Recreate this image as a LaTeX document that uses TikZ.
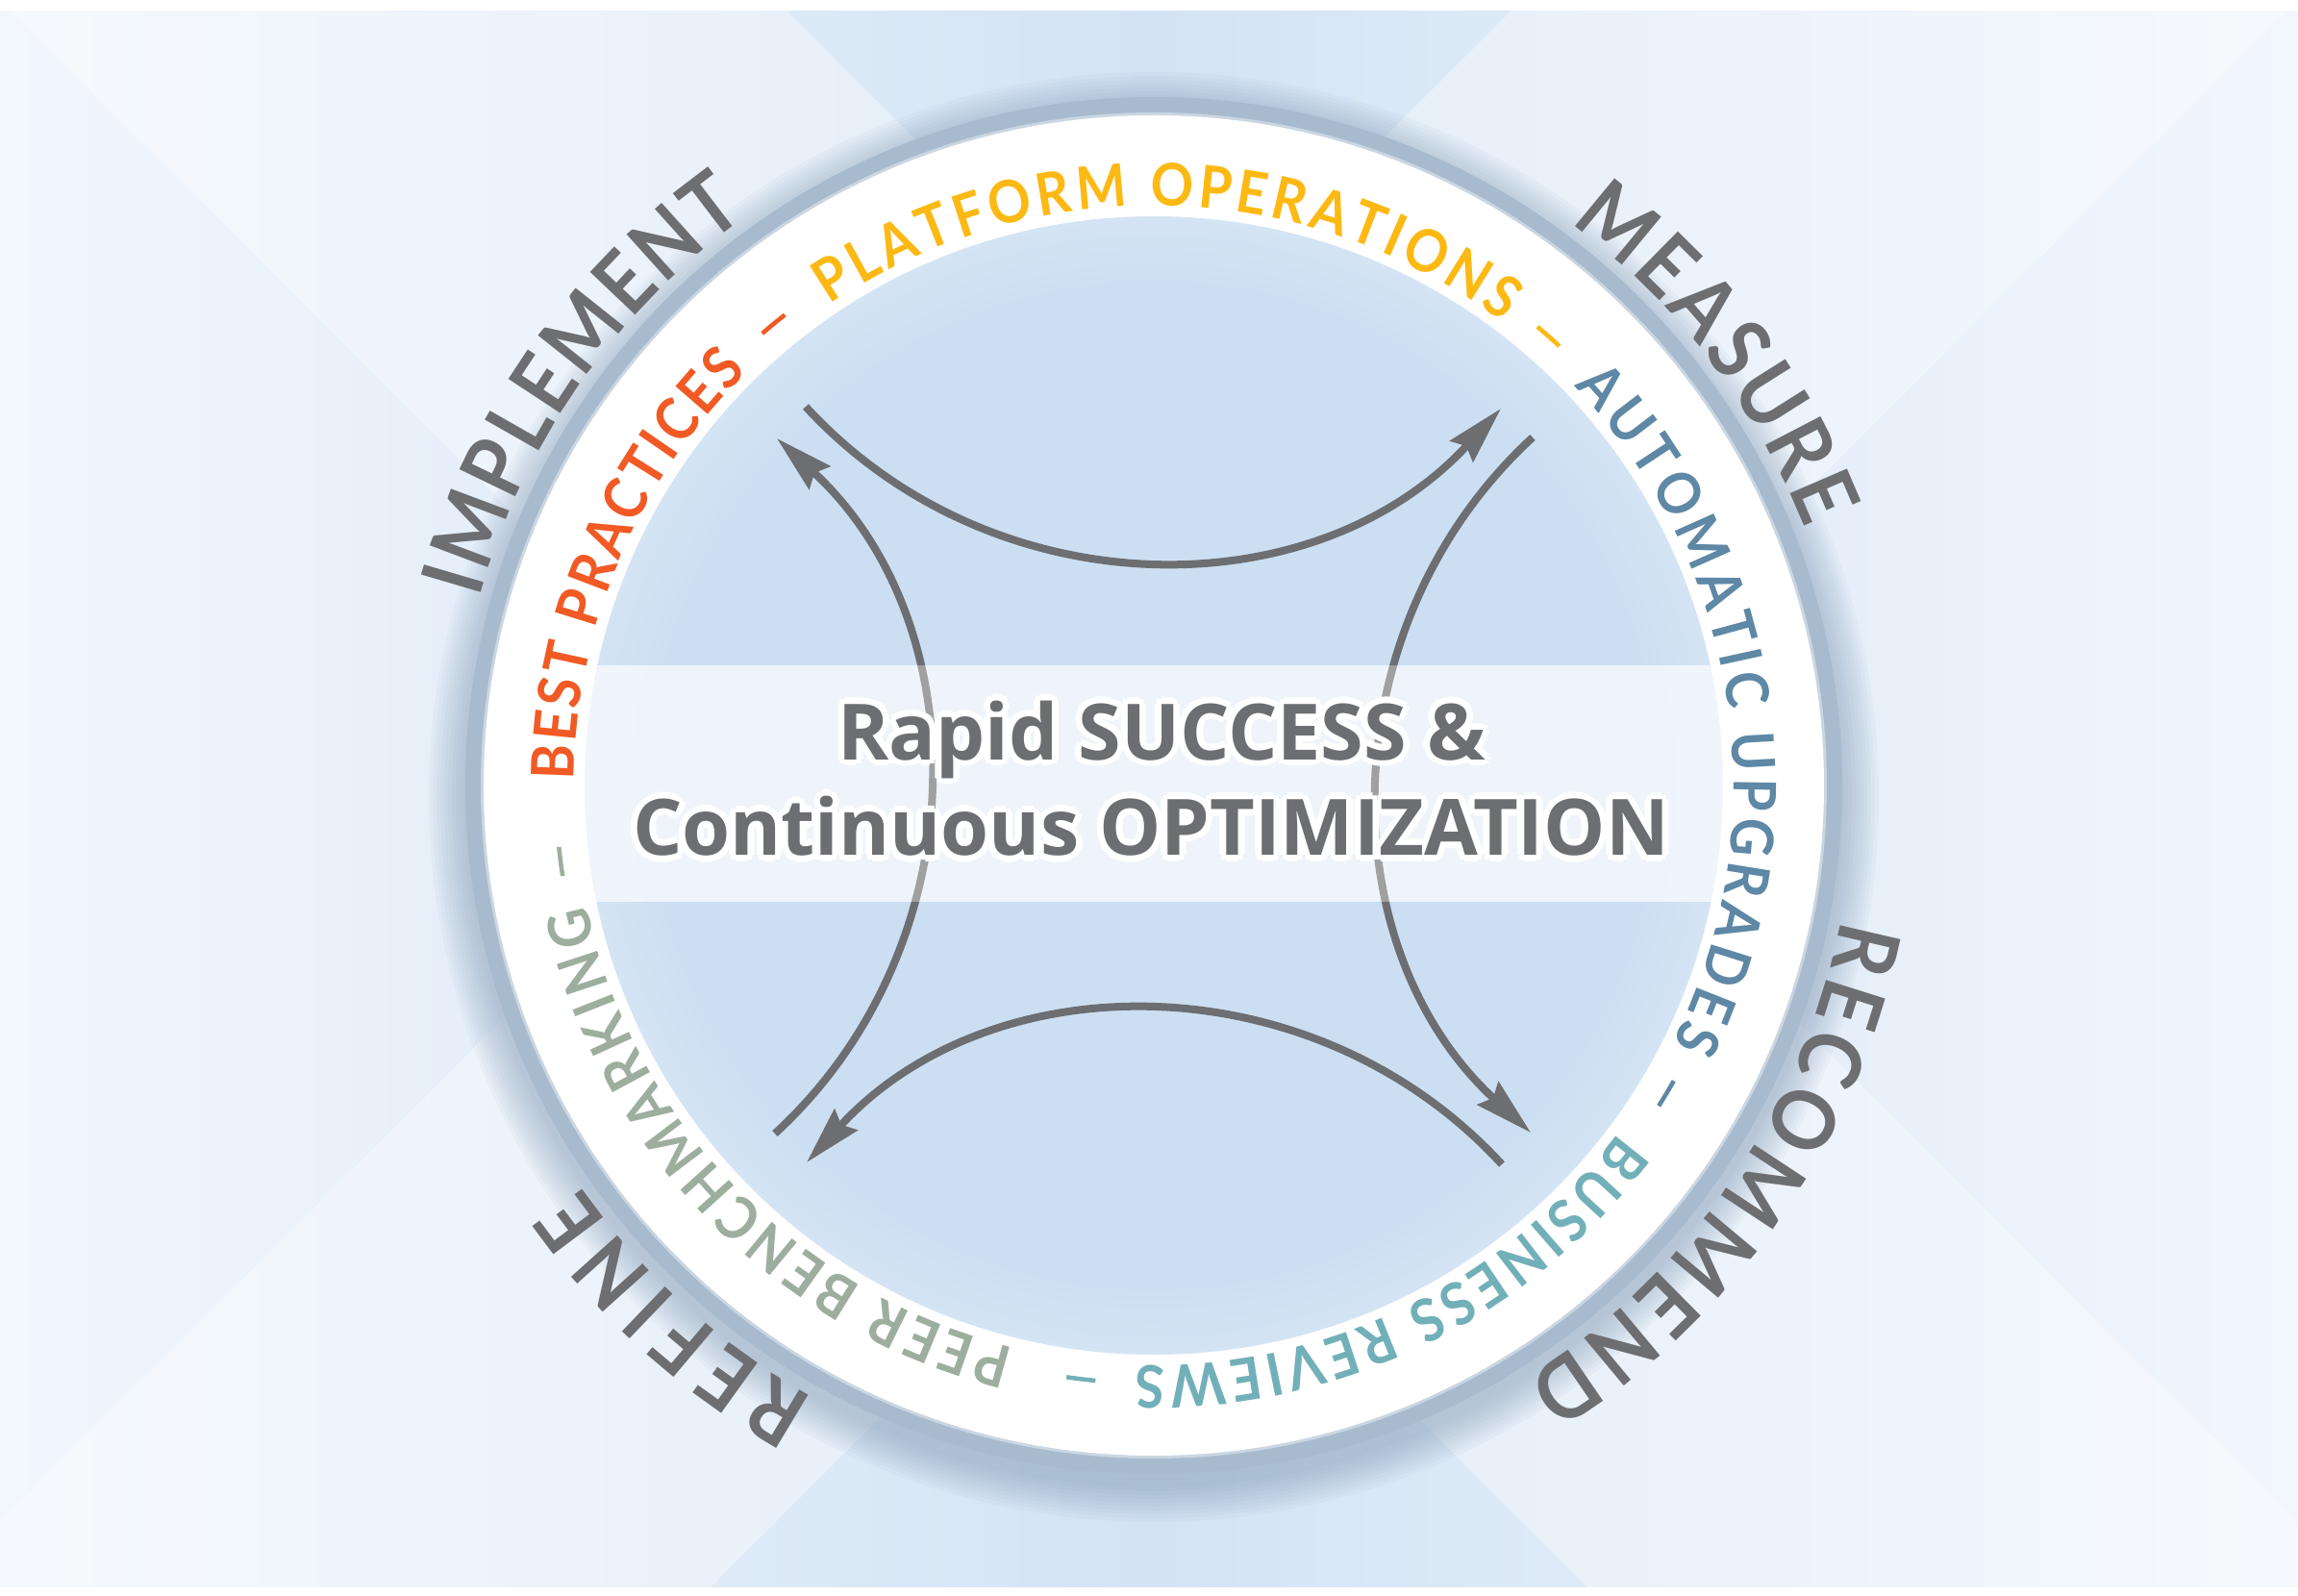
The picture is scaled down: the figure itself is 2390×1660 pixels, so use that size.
\documentclass[tikz,border=0pt]{standalone}
\usepackage{fontspec}
\usetikzlibrary{arrows.meta,decorations.text}
\newfontfamily\ringfont[FakeStretch=0.9]{Lato}
\newfontfamily\titlefont{Open Sans}
\definecolor{wordgrey}{HTML}{6D6E71}
\definecolor{bestorange}{HTML}{F15A24}
\definecolor{platyellow}{HTML}{FDB913}
\definecolor{autoblue}{HTML}{5E88A5}
\definecolor{bizteal}{HTML}{72B0B9}
\definecolor{peergreen}{HTML}{9DAE9E}
\definecolor{ringblue}{HTML}{A8BBCE}
\definecolor{ringlight}{HTML}{CAD6E2}
\definecolor{shadowblue}{HTML}{7F98B3}
\definecolor{lensblue}{HTML}{CCDFF2}
\definecolor{lensmid}{HTML}{D9E7F6}
\definecolor{lenspale}{HTML}{E9F1FA}
\definecolor{lensrim}{HTML}{F7FAFD}
\definecolor{platerim}{HTML}{E8EFF7}
\definecolor{bgmid}{HTML}{D3E3F4}
\definecolor{bgside}{HTML}{F2F7FC}
\pgfdeclareradialshading{lensshade}{\pgfpoint{0bp}{0bp}}{color(0bp)=(lensblue);color(22bp)=(lensblue);color(27bp)=(lensmid);color(31bp)=(lenspale);color(34bp)=(lensrim);color(35.4bp)=(white);color(50bp)=(white)}
\pgfdeclareradialshading{plateshade}{\pgfpoint{0bp}{0bp}}{color(0bp)=(white);color(30bp)=(white);color(35.4bp)=(platerim);color(50bp)=(platerim)}
\newcommand\innerarc[4]{\path[decorate,decoration={text along path,text align={fit to path},
  text={|\ringfont\bfseries\fontsize{17.4}{20}\selectfont\color{#1}|#4}}](#2:603)arc[start angle=#2,end angle=#3,radius=603];}
\newcommand\outerarc[3]{\path[decorate,decoration={text along path,text align={fit to path},
  text={|\ringfont\bfseries\fontsize{25.4}{28}\selectfont\color{wordgrey}|#3}}](#1:728)arc[start angle=#1,end angle=#2,radius=728];}
\newcommand\ringdash[2]{\draw[#1,line width=.45mm](#2+1.4:622)arc[start angle=#2+1.4,end angle=#2-1.4,radius=622];}
\begin{document}
\begin{tikzpicture}[x=.01cm,y=.01cm,
  arrowline/.style={draw=wordgrey,line width=.8mm,-{Stealth[length=6mm,width=3.2mm,inset=.7mm]}},
  titletext/.style={font=\titlefont\bfseries\fontsize{23}{27}\selectfont,anchor=base,inner sep=0pt}]
\useasboundingbox(-1200,-843)rectangle(1190,817);
\fill[white](-1200,-843)rectangle(1190,817);
\shade[left color=bgside,right color=bgside,middle color=bgmid](-1200,-833)rectangle(1190,805);
\begin{scope}
  \clip(-1200,-833)rectangle(1190,805);
  \fill[white,opacity=.35](-2000,1617)--(2000,-2383)--(2000,-1576)--(-2000,2424)--cycle;
  \fill[white,opacity=.35](-2000,-2373)--(2000,1627)--(2000,2434)--(-2000,-1566)--cycle;
\end{scope}
\foreach \r in {718,722,...,754}\fill[shadowblue,opacity=.06](0,-12)circle(\r);
\fill[ringblue](0,0)circle(716);
\fill[ringlight](0,0)circle(700);
\shade[shading=plateshade](0,0)circle(697);
\shade[shading=lensshade](0,0)circle(592);
\begin{scope}
  \clip(0,0)circle(595);
  \fill[white,opacity=.5](-600,-121)rectangle(600,125);
\end{scope}
\foreach \a in {0,90,180,270}
  \draw[arrowline,rotate=-\a](-362,394)..controls(-168,183)and(167,181)..(361,392);
\begin{scope}
  \clip(0,0)circle(595);
  \fill[white,opacity=.35](-600,-121)rectangle(600,125);
\end{scope}
\foreach \d in {0,45,...,315}{
  \node[titletext,text=white,shift={(\d:7)}](rapidglow\d)at(8,27){Rapid SUCCESS \&};
  \node[titletext,text=white,shift={(\d:7)}](optimglow\d)at(-3,-73){Continuous OPTIMIZATION};
}
\node[titletext,text=wordgrey](rapid)at(8,27){Rapid SUCCESS \&};
\node[titletext,text=wordgrey](optim)at(-3,-73){Continuous OPTIMIZATION};
\innerarc{bestorange}{179.5}{134.5}{BEST PRACTICES}
\ringdash{bestorange}{129.5}
\innerarc{platyellow}{124}{53}{PLATFORM OPERATIONS}
\ringdash{platyellow}{48.7}
\innerarc{autoblue}{43.5}{-26.4}{AUTOMATIC UPGRADES}
\ringdash{autoblue}{-31}
\innerarc{bizteal}{-36.8}{-91.8}{BUSINESS REVIEWS}
\ringdash{bizteal}{-97}
\innerarc{peergreen}{-104}{-168}{PEER BENCHMARKING}
\ringdash{peergreen}{-172.7}
\outerarc{164.5}{125.5}{IMPLEMENT}
\outerarc{53.5}{21.5}{MEASURE}
\outerarc{-11}{-58}{RECOMMEND}
\outerarc{-119}{-145}{REFINE}
\end{tikzpicture}
\end{document}
